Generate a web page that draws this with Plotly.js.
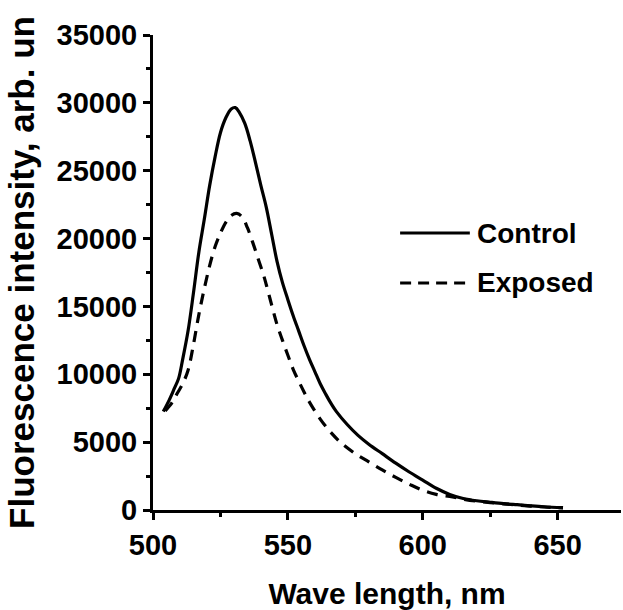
<!DOCTYPE html>
<html>
<head>
<meta charset="utf-8">
<script src="https://cdn.plot.ly/plotly-3.0.1.min.js"></script>
<style>html,body{margin:0;padding:0;background:#fff;}#chart{width:623px;height:610px;}</style>
</head>
<body>
<div id="chart"></div>
<script>
// Wavelength (nm) and fluorescence intensity (arb. units)
const controlX = [503.8, 506, 508, 509.5, 511, 513, 515, 517, 519, 521, 523, 525, 527, 529, 530.5, 532, 534, 536, 538, 540, 542, 544, 546, 548, 550, 552, 554, 556, 558, 560, 562, 564, 566, 568, 572, 576, 580, 585, 590, 595, 600, 605, 610, 615, 620, 625, 630, 635, 640, 645, 652];
const controlY = [7250, 8100, 9000, 9700, 11100, 13200, 16000, 19000, 21400, 23900, 26000, 27800, 28900, 29550, 29650, 29300, 28500, 27200, 25600, 23900, 22300, 20300, 18300, 16750, 15500, 14300, 13200, 12100, 11100, 10200, 9300, 8550, 7850, 7250, 6300, 5500, 4850, 4150, 3450, 2800, 2200, 1600, 1150, 850, 680, 570, 470, 390, 310, 240, 170];

const exposedX = [504.5, 507, 509, 511, 513, 515, 517, 519, 521, 523, 525, 527, 529, 531, 533, 535, 537, 539, 541, 542, 544, 546, 548, 550, 552, 554, 556, 558, 562, 566, 570, 575, 580, 585, 590, 595, 600, 605, 610, 615, 620, 625, 630, 635, 640, 645, 652];
const exposedY = [7300, 7900, 8600, 9300, 10300, 12200, 14400, 16300, 18000, 19400, 20400, 21200, 21700, 21850, 21600, 20800, 19700, 18500, 17300, 16600, 15100, 13650, 12500, 11400, 10350, 9500, 8700, 7950, 6700, 5700, 4900, 4150, 3550, 2950, 2400, 1900, 1450, 1150, 1000, 800, 650, 550, 450, 370, 290, 220, 150];

const seriesNames = ["Control", "Exposed"];
const xTicks = [500, 550, 600, 650];
const yTicks = [0, 5000, 10000, 15000, 20000, 25000, 30000, 35000];
const xTitle = "Wave length, nm";
const yTitle = "Fluorescence intensity, arb. un";

const FONT = '"Liberation Sans", Arial, sans-serif';

const traces = [
  {x: controlX, y: controlY, name: seriesNames[0], mode: 'lines',
   line: {color: '#000', width: 3.2, shape: 'spline', smoothing: 1}},
  {x: exposedX, y: exposedY, name: seriesNames[1], mode: 'lines',
   line: {color: '#000', width: 3.2, dash: '11px,8px', shape: 'spline', smoothing: 1}}
];

const layout = {
  width: 623, height: 610,
  margin: {l: 153, r: 2, t: 35, b: 100},
  paper_bgcolor: '#fff', plot_bgcolor: '#fff',
  showlegend: false,
  font: {family: FONT, color: '#000', size: 29, weight: 'bold'},
  xaxis: {
    range: [500, 673.5], tickvals: xTicks, ticktext: xTicks.map(String),
    showline: true, linewidth: 3, linecolor: '#000', showgrid: false, zeroline: false,
    ticks: 'outside', ticklen: 7, tickwidth: 3, tickcolor: '#000',
    tickfont: {family: FONT, size: 29, weight: 'bold', color: '#000'},
    minor: {tickvals: [525, 575, 625, 675], ticks: 'outside', ticklen: 4, tickwidth: 3, tickcolor: '#000'},
    title: {text: xTitle, font: {family: FONT, size: 30, weight: 'bold', color: '#000'}, standoff: 24}
  },
  yaxis: {
    range: [0, 35000], tickvals: yTicks, ticktext: yTicks.map(String),
    showline: true, linewidth: 3, linecolor: '#000', showgrid: false, zeroline: false,
    ticks: 'outside', ticklen: 7, tickwidth: 3, tickcolor: '#000',
    tickfont: {family: FONT, size: 29, weight: 'bold', color: '#000'},
    minor: {tickvals: [2500, 7500, 12500, 17500, 22500, 27500, 32500], ticks: 'outside', ticklen: 4, tickwidth: 3, tickcolor: '#000'},
    title: {text: yTitle, font: {family: FONT, size: 35, weight: 'bold', color: '#000'}, standoff: 12}
  },
  shapes: [
    {type: 'line', xref: 'paper', yref: 'paper', x0: 0.528, x1: 0.677, y0: 0.583, y1: 0.583, line: {color: '#000', width: 3}},
    {type: 'line', xref: 'paper', yref: 'paper', x0: 0.528, x1: 0.668, y0: 0.478, y1: 0.478, line: {color: '#000', width: 3, dash: '11px,7px'}}
  ],
  annotations: [
    {xref: 'paper', yref: 'paper', x: 0.688, y: 0.583, xanchor: 'left', yanchor: 'middle', text: seriesNames[0], showarrow: false,
     font: {family: FONT, size: 28, weight: 'bold', color: '#000'}},
    {xref: 'paper', yref: 'paper', x: 0.688, y: 0.478, xanchor: 'left', yanchor: 'middle', text: seriesNames[1], showarrow: false,
     font: {family: FONT, size: 28, weight: 'bold', color: '#000'}}
  ]
};

Plotly.newPlot('chart', traces, layout, {staticPlot: true, displayModeBar: false});
</script>
</body>
</html>
